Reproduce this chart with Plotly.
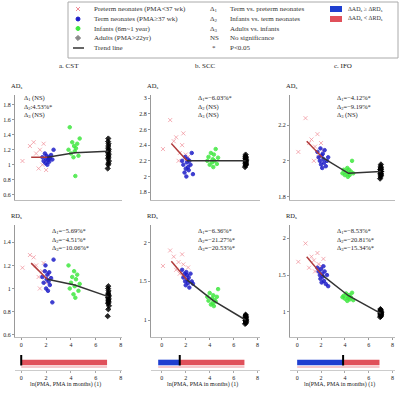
import plotly.graph_objects as go

# ---------------- data ----------------
preterm_x = [0.1, 0.7, 1.0, 1.2, 1.4, 1.5, 1.7, 1.8, 2.0, 2.2]
term_x = [1.7, 1.8, 1.9, 1.95, 2.0, 2.05, 2.1, 2.15, 2.2, 2.25, 2.3, 2.4, 2.5, 2.6]
infant_x = [3.8, 3.9, 4.0, 4.1, 4.2, 4.25, 4.3, 4.35, 4.4, 4.5, 4.6, 4.7]
adult_x = [6.95, 7.0, 7.05, 6.98, 7.02, 7.0, 7.04, 6.97, 7.01, 7.03, 6.99, 7.0, 7.02, 6.98, 7.0, 7.01]
trend_x = [0.8, 2.1, 4.3, 7.0]

ad_cst = {
    "pre": [1.05, 1.25, 1.3, 1.15, 0.95, 1.2, 1.0, 1.28, 0.93, 1.1],
    "term": [1.1, 1.05, 1.15, 1.02, 1.08, 1.12, 1.0, 1.06, 1.1, 1.04, 1.09, 1.13, 1.07, 1.2],
    "inf": [1.2, 1.5, 1.15, 1.3, 1.1, 1.25, 1.18, 0.85, 1.22, 1.28, 1.12, 1.35],
    "adult": [0.95, 1.0, 1.05, 1.08, 1.1, 1.12, 1.14, 1.16, 1.18, 1.2, 1.22, 1.25, 1.28, 1.31, 1.35, 1.02],
    "trend": [1.1, 1.1, 1.16, 1.18],
}
ad_scc = {
    "pre": [2.35, 2.72, 2.45, 2.5, 2.2, 2.3, 2.4, 2.55, 2.28, 2.25],
    "term": [2.2, 2.15, 2.05, 2.25, 2.1, 2.0, 2.18, 2.22, 2.12, 2.08, 2.2, 2.15, 2.3, 2.03],
    "inf": [2.2, 2.25, 2.15, 2.3, 2.18, 2.22, 2.12, 2.28, 2.2, 2.35, 2.16, 2.24],
    "adult": [2.12, 2.14, 2.16, 2.17, 2.18, 2.19, 2.2, 2.2, 2.21, 2.22, 2.23, 2.24, 2.25, 2.26, 2.28, 2.15],
    "trend": [2.42, 2.2, 2.2, 2.2],
}
ad_ifo = {
    "pre": [2.05, 2.24, 2.1, 2.12, 2.0, 2.08, 2.15, 2.02, 2.1, 2.06],
    "term": [2.05, 2.02, 2.0, 2.07, 1.98, 2.03, 1.96, 2.04, 2.01, 1.99, 2.06, 1.97, 2.0, 2.02],
    "inf": [1.93, 1.95, 1.92, 1.94, 1.96, 1.91, 1.93, 1.95, 1.92, 1.94, 2.0, 1.93],
    "adult": [1.9, 1.91, 1.92, 1.93, 1.93, 1.94, 1.94, 1.95, 1.95, 1.96, 1.96, 1.97, 1.98, 1.92, 1.95, 1.94],
    "trend": [2.11, 2.02, 1.93, 1.94],
}
rd_cst = {
    "pre": [1.18, 1.29, 1.27, 1.2, 1.1, 1.0, 1.15, 1.22, 1.05, 1.12],
    "term": [1.1, 1.05, 1.15, 1.2, 1.0, 1.08, 1.12, 0.98, 1.06, 1.14, 1.03, 1.09, 0.88, 1.25],
    "inf": [1.2, 1.0, 1.05, 1.1, 0.95, 1.15, 1.02, 0.92, 1.08, 1.12, 0.98, 1.04],
    "adult": [0.76, 0.82, 0.85, 0.87, 0.88, 0.9, 0.91, 0.92, 0.93, 0.94, 0.95, 0.96, 0.98, 1.0, 1.02, 0.89],
    "trend": [1.22, 1.08, 1.03, 0.93],
}
rd_scc = {
    "pre": [1.7, 1.9, 1.82, 1.65, 1.75, 1.6, 1.85, 1.72, 1.58, 1.68],
    "term": [1.65, 1.55, 1.6, 1.5, 1.45, 1.62, 1.58, 1.52, 1.48, 1.55, 1.42, 1.6, 1.5, 1.47],
    "inf": [1.3, 1.25, 1.35, 1.2, 1.28, 1.22, 1.32, 1.18, 1.26, 1.24, 1.3, 1.4],
    "adult": [0.95, 0.97, 0.98, 0.99, 1.0, 1.0, 1.01, 1.02, 1.03, 1.04, 1.05, 1.06, 0.96, 1.02, 1.07, 0.99],
    "trend": [1.76, 1.52, 1.25, 1.0],
}
rd_ifo = {
    "pre": [1.68, 1.93, 1.6, 1.75, 1.7, 1.55, 1.8, 1.65, 1.62, 1.72],
    "term": [1.6, 1.55, 1.5, 1.45, 1.58, 1.4, 1.52, 1.48, 1.62, 1.42, 1.55, 1.38, 1.5, 1.35],
    "inf": [1.2, 1.22, 1.18, 1.25, 1.15, 1.21, 1.19, 1.23, 1.17, 1.2, 1.26, 1.16],
    "adult": [0.93, 0.95, 0.96, 0.97, 0.98, 0.98, 0.99, 1.0, 1.0, 1.01, 1.02, 1.03, 0.94, 1.04, 0.97, 0.99],
    "trend": [1.75, 1.5, 1.22, 0.98],
}

panel_data = [ad_cst, ad_scc, ad_ifo, rd_cst, rd_scc, rd_ifo]
panel_text = [
    ["Δ<sub>1</sub> (NS)", "Δ<sub>2</sub>:4.53%*", "Δ<sub>3</sub> (NS)"],
    ["Δ<sub>1</sub>=−6.03%*", "Δ<sub>2</sub> (NS)", "Δ<sub>3</sub> (NS)"],
    ["Δ<sub>1</sub>=−4.12%*", "Δ<sub>2</sub>=−9.19%*", "Δ<sub>3</sub> (NS)"],
    ["Δ<sub>1</sub>=−5.69%*", "Δ<sub>2</sub>=−4.51%*", "Δ<sub>3</sub>=−10.06%*"],
    ["Δ<sub>1</sub>=−6.36%*", "Δ<sub>2</sub>=−21.27%*", "Δ<sub>3</sub>=−20.53%*"],
    ["Δ<sub>1</sub>=−8.53%*", "Δ<sub>2</sub>=−20.81%*", "Δ<sub>3</sub>=−15.34%*"],
]
titles = ["a. CST", "b. SCC", "c. IFO"]
y_labels = ["AD<sub>s</sub>", "RD<sub>s</sub>"]
y_ranges = [[0.53, 1.93], [1.7, 3.04], [1.78, 2.37], [0.58, 1.55], [0.78, 2.23], [0.66, 2.18]]
y_ticks = [[0.6, 0.8, 1.0, 1.2, 1.4, 1.6, 1.8], [1.8, 2.0, 2.2, 2.4, 2.6, 2.8, 3.0],
           [1.8, 2.0, 2.2], [0.6, 0.8, 1.0, 1.2, 1.4], [1.0, 1.5, 2.0], [1.0, 1.5, 2.0]]
x_ticks = [0, 2, 4, 6, 8]

# strip: transition from blue to red, end point
strip_start = [0.0, -0.3, 0.0]
strip_transition = [0.0, 1.5, 3.85]
strip_end = [6.9, 6.9, 6.9]
x_title = "ln(PMA, PMA in months) (1)"

legend_col1 = ["Preterm neonates (PMA<37 wk)", "Term neonates (PMA≥37 wk)",
               "Infants (6m~1 year)", "Adults (PMA>22yr)", "Trend line"]
legend_sym2 = ["Δ<sub>1</sub>", "Δ<sub>2</sub>", "Δ<sub>3</sub>", "NS", "*"]
legend_col2 = ["Term vs. preterm neonates", "Infants vs. term neonates",
               "Adults vs. infants", "No significance", "P<0.05"]
legend_col3 = ["ΔAD<sub>s</sub> ≥ ΔRD<sub>s</sub>", "ΔAD<sub>s</sub> < ΔRD<sub>s</sub>"]

# ---------------- styling ----------------
W, H = 400, 394
FONT = "Liberation Serif"
col_px = [(15, 122), (151, 260), (290, 395)]
x_ranges = [[-0.5, 8.1], [-0.9, 8.2], [-0.6, 8.2]]
row_px = [(95, 200), (225, 337)]
strip_px = (355, 370)
colors = {"pre": "#f08c96", "term": "#1c1cc8", "inf": "#3ee83e", "adult": "#000000"}
symbols = {"pre": "x-thin-open", "term": "circle", "inf": "circle", "adult": "diamond"}
sizes = {"pre": 4, "term": 3.5, "inf": 3.5, "adult": 4}
groups_x = {"pre": preterm_x, "term": term_x, "inf": infant_x, "adult": adult_x}


def px2x(p):
    return p / W


def px2y(p):
    return 1 - p / H


def axname(n):
    return ("xaxis" if n == 1 else f"xaxis{n}"), ("yaxis" if n == 1 else f"yaxis{n}")


def axref(n):
    return ("x" if n == 1 else f"x{n}"), ("y" if n == 1 else f"y{n}")


fig = go.Figure()
layout = dict(width=W, height=H, margin=dict(l=0, r=0, t=0, b=0),
              paper_bgcolor="white", plot_bgcolor="rgba(0,0,0,0)", showlegend=False,
              font=dict(family=FONT, size=6, color="#222"), barmode="overlay")
annotations = []
shapes = []

for i in range(6):
    r, c = divmod(i, 3)
    n = i + 1
    xa, ya = axref(n)
    xk, yk = axname(n)
    d = panel_data[i]
    for g in ["pre", "term", "inf", "adult"]:
        fig.add_trace(go.Scatter(
            x=groups_x[g], y=d[g], mode="markers", xaxis=xa, yaxis=ya,
            marker=dict(color=colors[g], symbol=symbols[g], size=sizes[g],
                        opacity=0.85 if g != "pre" else 0.7,
                        line=dict(width=1, color=colors[g]))))
    fig.add_trace(go.Scatter(x=trend_x[:2], y=d["trend"][:2], mode="lines", xaxis=xa, yaxis=ya,
                             line=dict(color="#b03a3a", width=1.5)))
    fig.add_trace(go.Scatter(x=trend_x[1:], y=d["trend"][1:], mode="lines", xaxis=xa, yaxis=ya,
                             line=dict(color="#333", width=1.5)))
    layout[xk] = dict(domain=[px2x(col_px[c][0]), px2x(col_px[c][1])], range=x_ranges[c],
                      anchor=ya, showgrid=False, zeroline=False, showline=True,
                      linecolor="#bbb", linewidth=1,
                      tickvals=x_ticks if r == 1 else [], ticks="outside" if r == 1 else "",
                      ticklen=2, tickcolor="#999", tickfont=dict(size=6, family=FONT))
    layout[yk] = dict(domain=[px2y(row_px[r][1]), px2y(row_px[r][0])], range=y_ranges[i],
                      anchor=xa, showgrid=False, zeroline=False, showline=True,
                      linecolor="#999", linewidth=1, tickvals=y_ticks[i],
                      ticktext=[f"{v:g}" for v in y_ticks[i]],
                      ticks="outside", ticklen=2, tickcolor="#999",
                      tickfont=dict(size=6, family=FONT))
    # stats text
    tx = col_px[c][0] + (7 if c == 0 else 45)
    if r == 1 and c == 0:
        tx = col_px[c][0] + 35
    ty0 = row_px[r][0] + (3 if r == 0 else 6)
    for k, t in enumerate(panel_text[i]):
        annotations.append(dict(x=px2x(tx), y=px2y(ty0 + k * 8.5), xref="paper", yref="paper",
                                text=t, showarrow=False, xanchor="left", yanchor="middle",
                                font=dict(size=6.5, family=FONT, color="#222")))
    annotations.append(dict(x=px2x(col_px[c][0] - 6), y=px2y(row_px[r][0] - 9), xref="paper", yref="paper",
                            text=y_labels[r], showarrow=False, xanchor="left", yanchor="middle",
                            font=dict(size=6.5, family=FONT, color="#222")))

for c in range(3):
    annotations.append(dict(x=px2x((col_px[c][0] + col_px[c][1]) / 2), y=px2y(66), xref="paper", yref="paper",
                            text=titles[c], showarrow=False, xanchor="center", yanchor="middle",
                            font=dict(size=7, family=FONT, color="#222")))

# strips
for c in range(3):
    n = 7 + c
    xa, ya = axref(n)
    xk, yk = axname(n)
    if strip_transition[c] > strip_start[c]:
        fig.add_trace(go.Bar(y=[0], x=[strip_transition[c] - strip_start[c]], base=[strip_start[c]],
                             orientation="h", xaxis=xa, yaxis=ya, width=0.75,
                             marker=dict(color="#1f3fd0", line=dict(width=0))))
    fig.add_trace(go.Bar(y=[0], x=[strip_end[c] - strip_transition[c]], base=[strip_transition[c]],
                         orientation="h", xaxis=xa, yaxis=ya, width=0.75,
                         marker=dict(color="#e0505a", line=dict(width=0))))
    fig.add_trace(go.Bar(y=[-0.6], x=[strip_end[c] - strip_start[c]], base=[strip_start[c]],
                         orientation="h", xaxis=xa, yaxis=ya, width=0.25,
                         marker=dict(color="#f6c8cc", line=dict(width=0))))
    fig.add_trace(go.Scatter(x=[strip_transition[c]], y=[0.35], mode="markers", xaxis=xa, yaxis=ya,
                             marker=dict(symbol="line-ns", size=8, line=dict(width=2, color="#000"))))
    layout[xk] = dict(domain=[px2x(col_px[c][0]), px2x(col_px[c][1])], range=x_ranges[c],
                      anchor=ya, showgrid=False, zeroline=False, showline=True,
                      linecolor="#ccc", linewidth=1, tickvals=x_ticks, ticks="outside",
                      ticklen=2, tickcolor="#aaa", tickfont=dict(size=6, family=FONT))
    layout[yk] = dict(domain=[px2y(strip_px[1]), px2y(strip_px[0])], range=[-1, 1],
                      anchor=xa, visible=False)
    annotations.append(dict(x=px2x((col_px[c][0] + col_px[c][1]) / 2 - 3), y=px2y(384), xref="paper", yref="paper",
                            text=x_title, showarrow=False, xanchor="center", yanchor="middle",
                            font=dict(size=6, family=FONT, color="#222")))

# legend box
shapes.append(dict(type="rect", xref="paper", yref="paper", x0=px2x(68), x1=px2x(398),
                   y0=px2y(58), y1=px2y(2), line=dict(color="#aaa", width=1), layer="below"))
row_y = [9, 19, 28.5, 38, 48]
leg_groups = ["pre", "term", "inf", "adult"]
LX0, LX1, LY0, LY1 = 68, 100, 2, 58
for k in range(5):
    yy = px2y(row_y[k])
    if k < 4:
        g = leg_groups[k]
        fig.add_trace(go.Scatter(x=[78], y=[row_y[k]], mode="markers", xaxis="x10", yaxis="y10",
                                 marker=dict(color=colors[g] if g != "adult" else "#888",
                                             symbol=symbols[g], size=4,
                                             line=dict(width=1, color=colors[g] if g != "adult" else "#888"))))
    else:
        fig.add_trace(go.Scatter(x=[73, 84], y=[row_y[k], row_y[k]], mode="lines", xaxis="x10", yaxis="y10",
                                 line=dict(color="#333", width=1.5)))
    annotations.append(dict(x=px2x(92), y=yy, xref="paper", yref="paper", text=legend_col1[k],
                            showarrow=False, xanchor="left", yanchor="middle",
                            font=dict(size=7, family=FONT, color="#333")))
    annotations.append(dict(x=px2x(214), y=yy, xref="paper", yref="paper", text=legend_sym2[k],
                            showarrow=False, xanchor="center", yanchor="middle",
                            font=dict(size=7, family=FONT, color="#333")))
    annotations.append(dict(x=px2x(228), y=yy, xref="paper", yref="paper", text=legend_col2[k],
                            showarrow=False, xanchor="left", yanchor="middle",
                            font=dict(size=7, family=FONT, color="#333")))
for k, colr in enumerate(["#1f3fd0", "#e0505a"]):
    shapes.append(dict(type="rect", xref="paper", yref="paper", x0=px2x(330), x1=px2x(342),
                       y0=px2y(row_y[k] + 3), y1=px2y(row_y[k] - 3), line=dict(width=0), fillcolor=colr))
    annotations.append(dict(x=px2x(346), y=px2y(row_y[k]), xref="paper", yref="paper", text=legend_col3[k],
                            showarrow=False, xanchor="left", yanchor="middle",
                            font=dict(size=6, family=FONT, color="#333")))
layout["xaxis10"] = dict(domain=[px2x(LX0), px2x(LX1)], range=[LX0, LX1], visible=False, anchor="y10")
layout["yaxis10"] = dict(domain=[px2y(LY1), px2y(LY0)], range=[LY1, LY0], visible=False, anchor="x10")

layout["annotations"] = annotations
layout["shapes"] = shapes
fig.update_layout(**layout)
fig.write_html("out.html", config={"displayModeBar": False, "staticPlot": True},
               post_script="document.body.style.margin='0';document.body.style.padding='0';")
